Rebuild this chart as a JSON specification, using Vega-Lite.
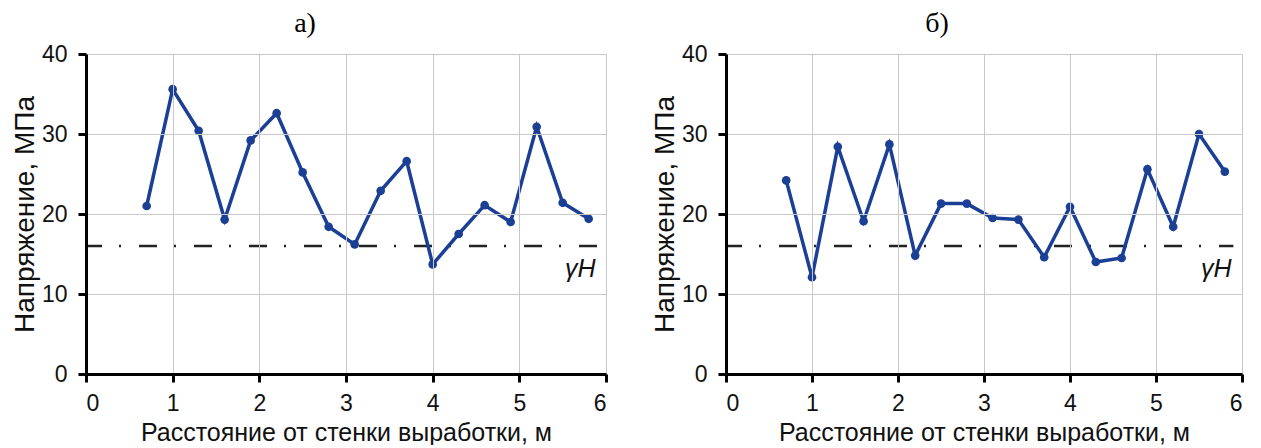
{
  "$schema": "https://vega.github.io/schema/vega-lite/v6.json",
  "background": "white",
  "padding": {"left": 11, "top": 10, "right": 0, "bottom": 0},
  "autosize": {"type": "pad"},
  "spacing": 43,
  "config": {
    "view": {"stroke": null}
  },
  "datasets": {
    "a": [
      {"x": 0.7, "y": 21.0}, {"x": 1.0, "y": 35.6}, {"x": 1.3, "y": 30.4},
      {"x": 1.6, "y": 19.3}, {"x": 1.9, "y": 29.2}, {"x": 2.2, "y": 32.6},
      {"x": 2.5, "y": 25.2}, {"x": 2.8, "y": 18.4}, {"x": 3.1, "y": 16.2},
      {"x": 3.4, "y": 22.9}, {"x": 3.7, "y": 26.6}, {"x": 4.0, "y": 13.7},
      {"x": 4.3, "y": 17.5}, {"x": 4.6, "y": 21.1}, {"x": 4.9, "y": 19.0},
      {"x": 5.2, "y": 30.9}, {"x": 5.5, "y": 21.4}, {"x": 5.8, "y": 19.4}
    ],
    "b": [
      {"x": 0.7, "y": 24.2}, {"x": 1.0, "y": 12.1}, {"x": 1.3, "y": 28.4},
      {"x": 1.6, "y": 19.1}, {"x": 1.9, "y": 28.7}, {"x": 2.2, "y": 14.8},
      {"x": 2.5, "y": 21.3}, {"x": 2.8, "y": 21.3}, {"x": 3.1, "y": 19.5},
      {"x": 3.4, "y": 19.3}, {"x": 3.7, "y": 14.6}, {"x": 4.0, "y": 20.9},
      {"x": 4.3, "y": 14.0}, {"x": 4.6, "y": 14.5}, {"x": 4.9, "y": 25.6},
      {"x": 5.2, "y": 18.4}, {"x": 5.5, "y": 30.0}, {"x": 5.8, "y": 25.3}
    ],
    "ref": [{"x0": 0, "x1": 5.9, "y": 16, "label": "γH", "lx": 5.88, "ly": 13.1}]
  },
  "hconcat": [
    {
      "width": 520,
      "height": 320,
      "title": {"text": "а)", "dx": -41, "offset": 5, "font": "Liberation Serif", "fontSize": 28, "fontWeight": "normal", "color": "#000000"},
      "layer": [
        {
          "data": {"name": "ref"},
          "mark": {"type": "rule", "color": "#222222", "strokeWidth": 2.5, "strokeDash": [18, 17, 2, 18], "strokeDashOffset": 2},
          "encoding": {
            "x": {"field": "x0", "type": "quantitative", "scale": {"domain": [0, 6]},
                  "axis": {"values": [0, 1, 2, 3, 4, 5, 6], "format": "d", "title": "Расстояние от стенки выработки, м", "zindex": 1,
                           "domainColor": "#000000", "domainWidth": 3, "tickColor": "#000000", "tickWidth": 3, "tickSize": 8,
                           "gridColor": "#c8c8c8", "gridWidth": 1,
                           "labelFont": "Liberation Sans", "labelFontSize": 23, "labelColor": "#111111", "labelPadding": 10,
                           "titleFont": "Liberation Sans", "titleFontSize": 25, "titleFontWeight": "normal", "titleColor": "#111111", "titlePadding": 5}},
            "x2": {"field": "x1"},
            "y": {"field": "y", "type": "quantitative", "scale": {"domain": [0, 40]},
                  "axis": {"values": [0, 10, 20, 30, 40], "format": "d", "title": "Напряжение, МПа", "zindex": 1,
                           "domainColor": "#000000", "domainWidth": 3, "tickColor": "#000000", "tickWidth": 3, "tickSize": 8,
                           "gridColor": "#c8c8c8", "gridWidth": 1,
                           "labelFont": "Liberation Sans", "labelFontSize": 23, "labelColor": "#111111", "labelPadding": 11,
                           "titleFont": "Liberation Sans", "titleFontSize": 28, "titleFontWeight": "normal", "titleColor": "#111111", "titlePadding": 2}}
          }
        },
        {
          "data": {"name": "a"},
          "mark": {"type": "line", "color": "#1b3f95", "strokeWidth": 3.5, "point": {"filled": true, "size": 75, "color": "#1b3f95"}},
          "encoding": {
            "x": {"field": "x", "type": "quantitative"},
            "y": {"field": "y", "type": "quantitative"}
          }
        },
        {
          "data": {"name": "ref"},
          "mark": {"type": "text", "align": "right", "baseline": "middle", "fontStyle": "italic", "fontSize": 25, "font": "Liberation Sans", "color": "#111111"},
          "encoding": {
            "x": {"field": "lx", "type": "quantitative"},
            "y": {"field": "ly", "type": "quantitative"},
            "text": {"field": "label"}
          }
        }
      ]
    },
    {
      "width": 516,
      "height": 320,
      "title": {"text": "б)", "dx": -47, "offset": 5, "font": "Liberation Serif", "fontSize": 28, "fontWeight": "normal", "color": "#000000"},
      "layer": [
        {
          "data": {"name": "ref"},
          "mark": {"type": "rule", "color": "#222222", "strokeWidth": 2.5, "strokeDash": [18, 17, 2, 18], "strokeDashOffset": 2},
          "encoding": {
            "x": {"field": "x0", "type": "quantitative", "scale": {"domain": [0, 6]},
                  "axis": {"values": [0, 1, 2, 3, 4, 5, 6], "format": "d", "title": "Расстояние от стенки выработки, м", "zindex": 1,
                           "domainColor": "#000000", "domainWidth": 3, "tickColor": "#000000", "tickWidth": 3, "tickSize": 8,
                           "gridColor": "#c8c8c8", "gridWidth": 1,
                           "labelFont": "Liberation Sans", "labelFontSize": 23, "labelColor": "#111111", "labelPadding": 10,
                           "titleFont": "Liberation Sans", "titleFontSize": 25, "titleFontWeight": "normal", "titleColor": "#111111", "titlePadding": 5}},
            "x2": {"field": "x1"},
            "y": {"field": "y", "type": "quantitative", "scale": {"domain": [0, 40]},
                  "axis": {"values": [0, 10, 20, 30, 40], "format": "d", "title": "Напряжение, МПа", "zindex": 1,
                           "domainColor": "#000000", "domainWidth": 3, "tickColor": "#000000", "tickWidth": 3, "tickSize": 8,
                           "gridColor": "#c8c8c8", "gridWidth": 1,
                           "labelFont": "Liberation Sans", "labelFontSize": 23, "labelColor": "#111111", "labelPadding": 11,
                           "titleFont": "Liberation Sans", "titleFontSize": 28, "titleFontWeight": "normal", "titleColor": "#111111", "titlePadding": 2}}
          }
        },
        {
          "data": {"name": "b"},
          "mark": {"type": "line", "color": "#1b3f95", "strokeWidth": 3.5, "point": {"filled": true, "size": 75, "color": "#1b3f95"}},
          "encoding": {
            "x": {"field": "x", "type": "quantitative"},
            "y": {"field": "y", "type": "quantitative"}
          }
        },
        {
          "data": {"name": "ref"},
          "mark": {"type": "text", "align": "right", "baseline": "middle", "fontStyle": "italic", "fontSize": 25, "font": "Liberation Sans", "color": "#111111"},
          "encoding": {
            "x": {"field": "lx", "type": "quantitative"},
            "y": {"field": "ly", "type": "quantitative"},
            "text": {"field": "label"}
          }
        }
      ]
    }
  ]
}
